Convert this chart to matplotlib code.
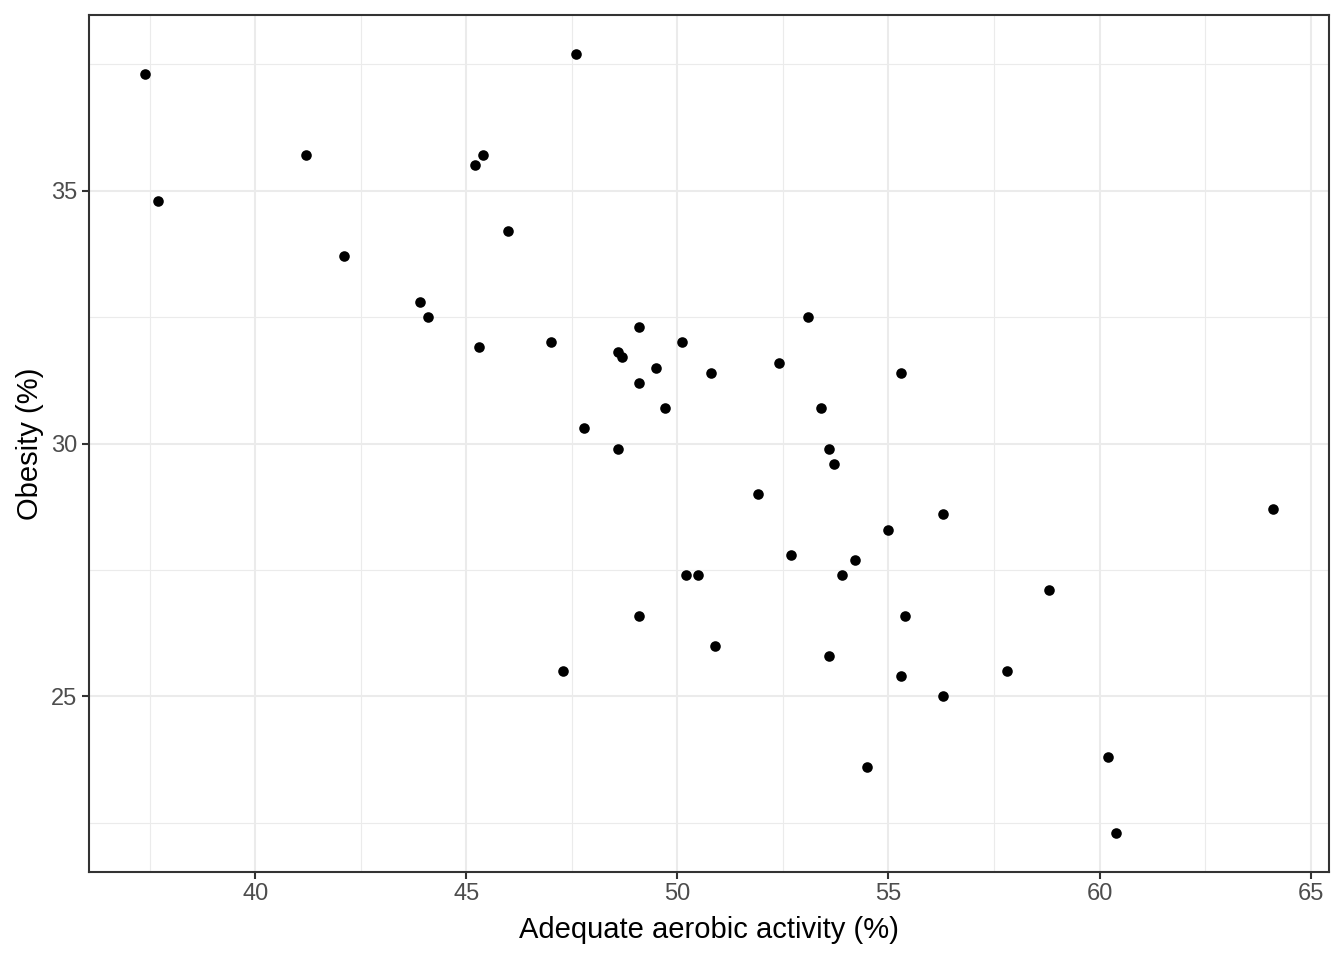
import matplotlib
matplotlib.use("Agg")
import matplotlib.pyplot as plt
from matplotlib.ticker import MultipleLocator

aerobic = [37.4, 37.7, 41.2, 42.1, 43.9, 44.1, 45.2, 45.4, 45.3, 46.0,
           47.6, 47.0, 47.8, 47.3, 48.6, 48.7, 48.6, 49.1, 49.1, 49.5,
           49.7, 49.1, 50.1, 50.2, 50.5, 50.8, 50.9, 51.9, 52.4, 52.7,
           53.1, 53.4, 53.6, 53.7, 53.9, 54.2, 53.6, 54.5, 55.0, 55.3,
           55.4, 55.3, 56.3, 56.3, 57.8, 58.8, 60.2, 60.4, 64.1]
obesity = [37.3, 34.8, 35.7, 33.7, 32.8, 32.5, 35.5, 35.7, 31.9, 34.2,
           37.7, 32.0, 30.3, 25.5, 31.8, 31.7, 29.9, 32.3, 31.2, 31.5,
           30.7, 26.6, 32.0, 27.4, 27.4, 31.4, 26.0, 29.0, 31.6, 27.8,
           32.5, 30.7, 29.9, 29.6, 27.4, 27.7, 25.8, 23.6, 28.3, 31.4,
           26.6, 25.4, 28.6, 25.0, 25.5, 27.1, 23.8, 22.3, 28.7]

xlabel = "Adequate aerobic activity (%)"
ylabel = "Obesity (%)"

plt.rcParams['font.family'] = ['Liberation Sans', 'DejaVu Sans']

W, H = 1344, 960
fig = plt.figure(figsize=(W / 100, H / 100), dpi=100)
ax = fig.add_axes([89 / W, (H - 872) / H, (1329 - 89) / W, (872 - 15) / H])

ax.scatter(aerobic, obesity, s=58, color='black', linewidths=0, zorder=3)

xmin, xmax = min(aerobic), max(aerobic)
ymin, ymax = min(obesity), max(obesity)
dx, dy = (xmax - xmin) * 0.05, (ymax - ymin) * 0.05
ax.set_xlim(xmin - dx, xmax + dx)
ax.set_ylim(ymin - dy, ymax + dy)

ax.xaxis.set_major_locator(MultipleLocator(5))
ax.xaxis.set_minor_locator(MultipleLocator(2.5))
ax.yaxis.set_major_locator(MultipleLocator(5))
ax.yaxis.set_minor_locator(MultipleLocator(2.5))

ax.grid(which='major', color='#EBEBEB', linewidth=1.5, zorder=0)
ax.grid(which='minor', color='#EBEBEB', linewidth=0.8, zorder=0)
ax.set_axisbelow(True)

for sp in ax.spines.values():
    sp.set_color('#333333')
    sp.set_linewidth(1.5)

ax.tick_params(which='major', length=5.2, width=1.5, color='#333333',
               labelcolor='#4D4D4D', labelsize=17, pad=3)
ax.tick_params(which='minor', length=0)

ax.set_xlabel(xlabel, fontsize=21, color='black', labelpad=7.5)
ax.set_ylabel(ylabel, fontsize=21, color='black', labelpad=5)

fig.savefig("out.png", dpi=100, facecolor='white')
